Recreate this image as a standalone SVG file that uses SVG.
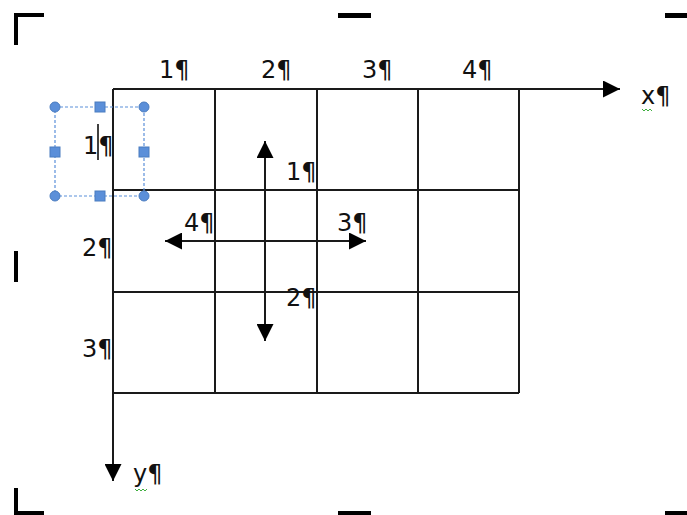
<svg xmlns="http://www.w3.org/2000/svg" width="687" height="515" viewBox="0 0 687 515">
<defs>
<style>
.g{stroke:#1a1a1a;stroke-width:2;fill:none}
.t{font-family:"DejaVu Sans",Verdana,sans-serif;font-size:24px;fill:#111}
.c{fill:#000}
.sel{stroke:#5b8fd9;stroke-width:1.2;stroke-dasharray:3,2;fill:none}
.h{fill:#5b8fd9;stroke:#4a7cc0;stroke-width:1}
.sq{stroke:#3fae3f;stroke-width:1;fill:none}
</style>
<marker id="ah" viewBox="0 0 10 10" refX="10" refY="5" markerWidth="8.5" markerHeight="8.5" markerUnits="strokeWidth" orient="auto-start-reverse">
<path d="M0,0 L10,5 L0,10 Z" fill="#000"/>
</marker>
</defs>
<rect width="687" height="515" fill="#fff"/>
<g id="crop-marks">
<path class="c" d="M14,13 H44 V17 H18 V45 H14 Z"/>
<rect class="c" x="338" y="13" width="33" height="5"/>
<rect class="c" x="665" y="13" width="22" height="5"/>
<rect class="c" x="14" y="251" width="4" height="31"/>
<path class="c" d="M14,488 H18 V511 H44 V515 H14 Z"/>
<rect class="c" x="338" y="511" width="33" height="4"/>
<rect class="c" x="665" y="511" width="22" height="4"/>
</g>
<g id="grid">
<path class="g" d="M215,89 V393 M317,89 V393 M418,89 V393 M519,89 V393 M113,190 H519 M113,292 H519 M113,393 H519"/>
</g>
<g id="connectors">
<line class="g" x1="113" y1="89" x2="620" y2="89" marker-end="url(#ah)"/>
<line class="g" x1="113" y1="89" x2="113" y2="481" marker-end="url(#ah)"/>
<line class="g" x1="265" y1="141" x2="265" y2="341" marker-start="url(#ah)" marker-end="url(#ah)"/>
<line class="g" x1="165" y1="241" x2="366" y2="241" marker-start="url(#ah)" marker-end="url(#ah)"/>
</g>
<g id="labels">
<text class="t" x="159" y="78">1¶</text>
<text class="t" x="261" y="78">2¶</text>
<text class="t" x="362" y="78">3¶</text>
<text class="t" x="462" y="78">4¶</text>
<text class="t" x="641" y="104">x¶</text>
<text class="t" x="82" y="256">2¶</text>
<text class="t" x="82" y="357">3¶</text>
<text class="t" x="133" y="482">y¶</text>
<text class="t" x="286" y="180">1¶</text>
<text class="t" x="184" y="231">4¶</text>
<text class="t" x="337" y="231">3¶</text>
<text class="t" x="286" y="306">2¶</text>
<path class="sq" d="M642,109 l2,2 l2,-2 l2,2 l2,-2 l2,2"/>
<path class="sq" d="M135,489 l2,2 l2,-2 l2,2 l2,-2 l2,2 l2,-2"/>
</g>
<g id="selected-label">
<rect class="sel" x="55" y="107" width="89" height="89"/>
<text class="t" x="83" y="154">1¶</text>
<line x1="98" y1="124" x2="98" y2="160" stroke="#000" stroke-width="1.5"/>
<circle class="h" cx="55" cy="107" r="5"/>
<circle class="h" cx="144" cy="107" r="5"/>
<circle class="h" cx="55" cy="196" r="5"/>
<circle class="h" cx="144" cy="196" r="5"/>
<rect class="h" x="95" y="102" width="10" height="10"/>
<rect class="h" x="95" y="191" width="10" height="10"/>
<rect class="h" x="50" y="147" width="10" height="10"/>
<rect class="h" x="139" y="147" width="10" height="10"/>
</g>
</svg>
